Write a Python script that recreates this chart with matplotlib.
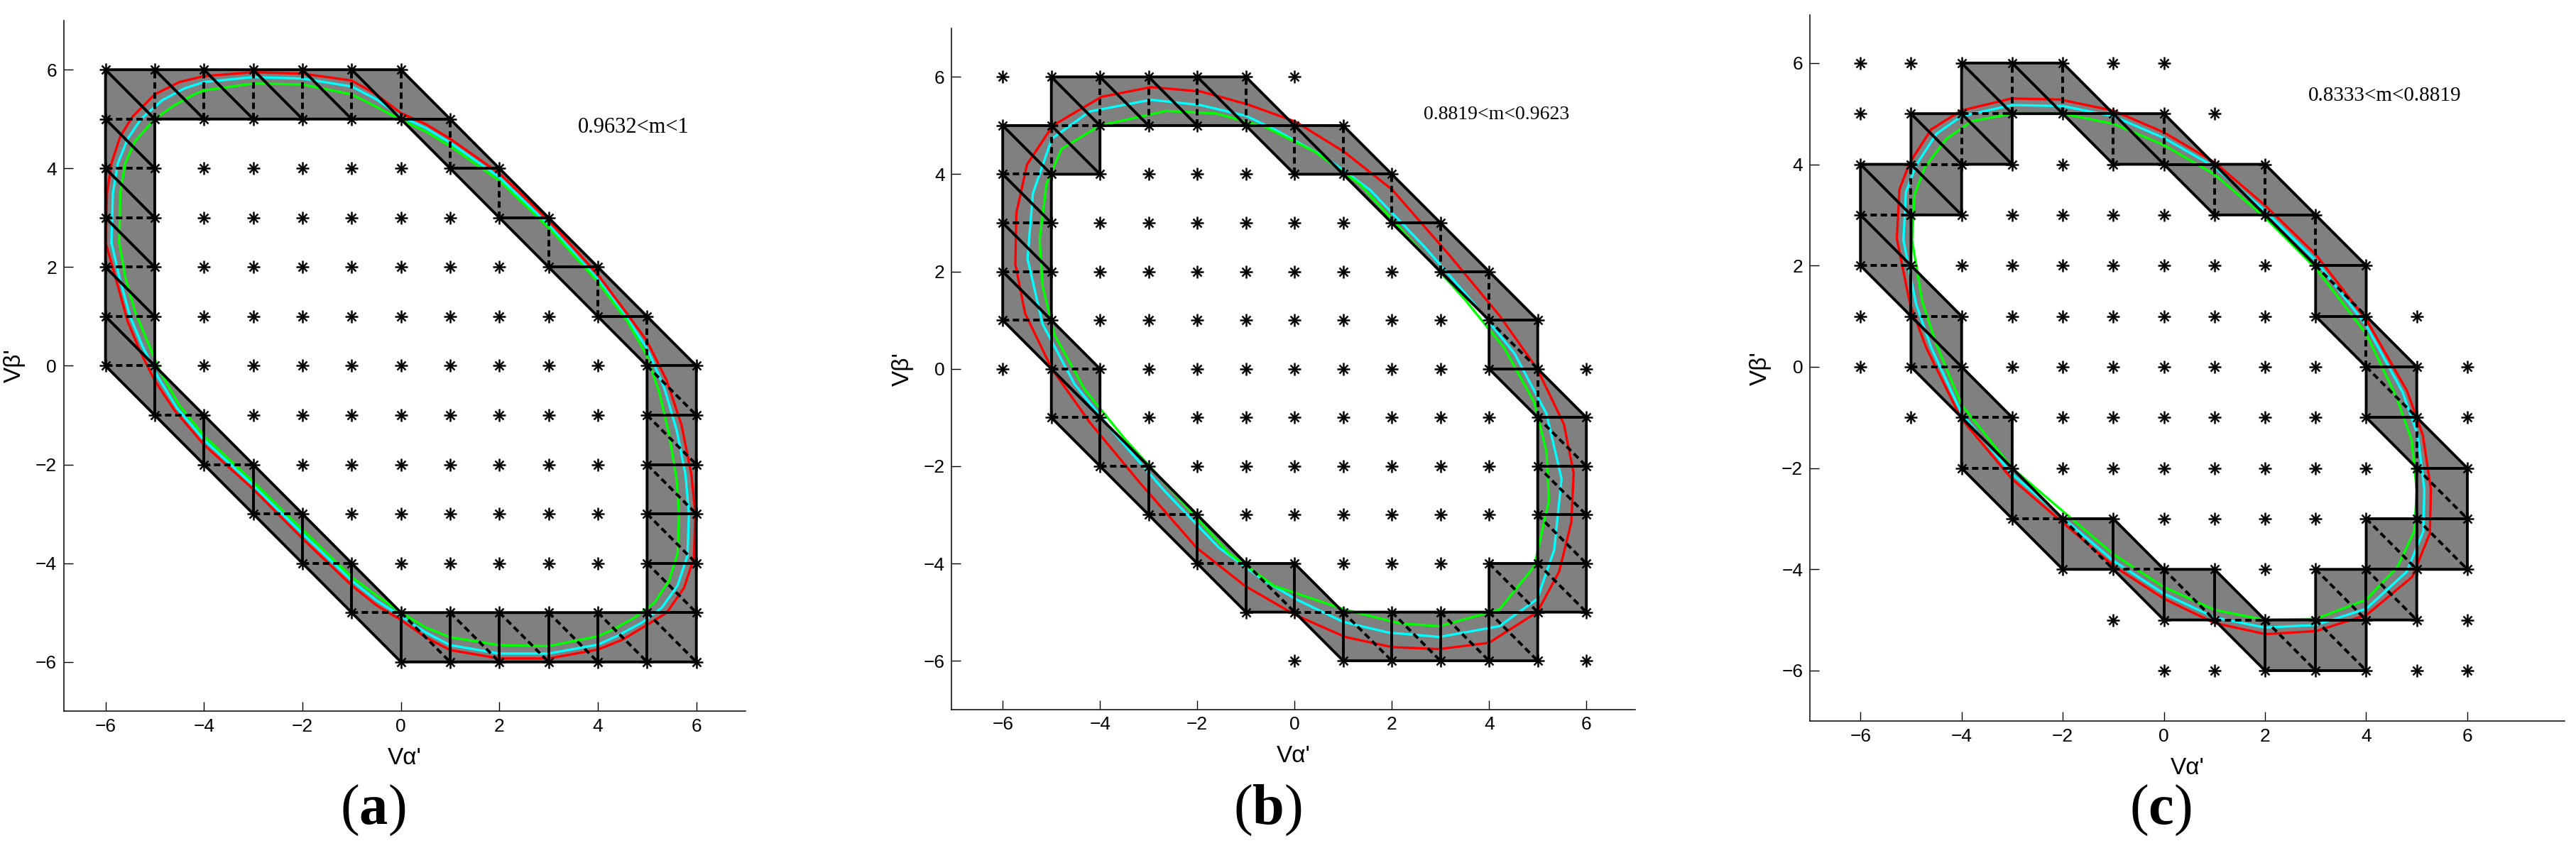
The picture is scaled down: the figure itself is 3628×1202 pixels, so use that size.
import matplotlib
matplotlib.use("Agg")
import matplotlib.pyplot as plt

plt.rcParams['font.family'] = ['Liberation Sans', 'DejaVu Sans']
plt.rcParams['mathtext.fontset'] = 'custom'
plt.rcParams['mathtext.rm'] = 'Liberation Serif'
plt.rcParams['mathtext.bf'] = 'Liberation Serif:bold'

# lattice of switching vectors: row y -> (x min, x max)
star_rows = {6: (-6, 0), 5: (-6, 1), 4: (-6, 2), 3: (-6, 3), 2: (-6, 4), 1: (-6, 5), 0: (-6, 6),
             -1: (-5, 6), -2: (-4, 6), -3: (-3, 6), -4: (-2, 6), -5: (-1, 6), -6: (0, 6)}

ticks = [-6, -4, -2, 0, 2, 4, 6]
panel_names = ['a', 'b', 'c']
ranges = ['0.9632<m<1', '0.8819<m<0.9623', '0.8333<m<0.8819']

# ---- panel (a) ----
outer_a = [(-6, 6), (0, 6), (6, 0), (6, -6), (0, -6), (-6, 0)]
inner_a = [(-5, 5), (0, 5), (5, 0), (5, -5), (0, -5), (-5, 0)]
solid_a = [(-6, 6, -5, 5), (-5, 6, -4, 5), (-4, 6, -3, 5), (-3, 6, -2, 5), (-2, 6, -1, 5), (-1, 6, 0, 5),
           (-6, 5, -5, 4), (-6, 4, -5, 3), (-6, 3, -5, 2), (-6, 2, -5, 1), (-6, 1, -5, 0),
           (-5, -1, -5, 0), (-4, -2, -4, -1), (-3, -3, -3, -2), (-2, -4, -2, -3), (-1, -5, -1, -4), (0, -6, 0, -5),
           (1, -6, 1, -5), (2, -6, 2, -5), (3, -6, 3, -5), (4, -6, 4, -5), (5, -6, 5, -5),
           (5, 0, 6, 0), (5, -1, 6, -1), (5, -2, 6, -2), (5, -3, 6, -3), (5, -4, 6, -4), (5, -5, 6, -5),
           (0, 5, 1, 5), (1, 4, 2, 4), (2, 3, 3, 3), (3, 2, 4, 2), (4, 1, 5, 1)]
dashed_a = [(-5, 5, -5, 6), (-4, 5, -4, 6), (-3, 5, -3, 6), (-2, 5, -2, 6), (-1, 5, -1, 6), (0, 5, 0, 6),
            (-6, 5, -5, 5), (-6, 4, -5, 4), (-6, 3, -5, 3), (-6, 2, -5, 2), (-6, 1, -5, 1), (-6, 0, -5, 0),
            (-5, -1, -4, -1), (-4, -2, -3, -2), (-3, -3, -2, -3), (-2, -4, -1, -4), (-1, -5, 0, -5),
            (0, -5, 1, -6), (1, -5, 2, -6), (2, -5, 3, -6), (3, -5, 4, -6), (4, -5, 5, -6), (5, -5, 6, -6),
            (5, 0, 6, -1), (5, -1, 6, -2), (5, -2, 6, -3), (5, -3, 6, -4), (5, -4, 6, -5),
            (1, 4, 1, 5), (2, 3, 2, 4), (3, 2, 3, 3), (4, 1, 4, 2), (5, 0, 5, 1)]
red_a = [(-6.0, 2.5), (-5.97, 3.5), (-5.88, 4.1), (-5.7, 4.65), (-5.45, 5.05), (-5.0, 5.5), (-4.5, 5.75),
         (-4.0, 5.87), (-3.0, 5.95), (-2.0, 5.92), (-1.0, 5.78), (-0.5, 5.5), (0.0, 5.12), (0.5, 4.9),
         (1.0, 4.6), (2.0, 3.9), (3.0, 2.95), (4.0, 1.85), (4.6, 1.05), (5.0, 0.5), (5.4, -0.3), (5.7, -1.2),
         (5.9, -2.2), (5.98, -3.0), (5.95, -3.9), (5.75, -4.5), (5.4, -5.0), (5.0, -5.25), (4.5, -5.55),
         (4.0, -5.75), (3.0, -5.93), (2.0, -5.93), (1.0, -5.76), (0.5, -5.5), (0.0, -5.15), (-0.5, -4.85),
         (-1.0, -4.45), (-2.0, -3.5), (-3.0, -2.5), (-4.0, -1.6), (-4.6, -0.9), (-5.0, -0.3), (-5.3, 0.3),
         (-5.55, 0.9), (-5.8, 1.8)]
cyan_a = [(-5.88, 2.5), (-5.85, 3.5), (-5.75, 4.1), (-5.55, 4.6), (-5.28, 5.0), (-4.85, 5.38), (-4.4, 5.62),
          (-4.0, 5.75), (-3.0, 5.85), (-2.0, 5.82), (-1.0, 5.66), (-0.5, 5.4), (0.0, 5.05), (0.5, 4.82),
          (1.0, 4.52), (2.0, 3.82), (3.0, 2.85), (4.0, 1.75), (4.6, 0.95), (5.0, 0.35), (5.35, -0.45),
          (5.6, -1.3), (5.78, -2.2), (5.85, -3.0), (5.82, -3.85), (5.62, -4.45), (5.3, -4.9), (4.9, -5.2),
          (4.4, -5.47), (4.0, -5.65), (3.0, -5.83), (2.0, -5.83), (1.0, -5.66), (0.5, -5.4), (0.0, -5.07),
          (-0.5, -4.75), (-1.0, -4.35), (-2.0, -3.4), (-3.0, -2.42), (-4.0, -1.5), (-4.55, -0.85),
          (-4.95, -0.2), (-5.25, 0.4), (-5.5, 1.0), (-5.72, 1.8)]
green_a = [(-5.72, 2.5), (-5.7, 3.5), (-5.6, 4.1), (-5.4, 4.55), (-5.0, 5.0), (-4.6, 5.28), (-4.2, 5.5),
           (-4.0, 5.58), (-3.0, 5.72), (-2.0, 5.7), (-1.0, 5.5), (-0.5, 5.25), (0.0, 4.98), (0.5, 4.75),
           (1.0, 4.45), (2.0, 3.75), (3.0, 2.8), (4.0, 1.7), (4.6, 0.9), (5.0, 0.2), (5.25, -0.55),
           (5.45, -1.4), (5.6, -2.3), (5.65, -3.0), (5.62, -3.8), (5.45, -4.35), (5.15, -4.8), (4.75, -5.1),
           (4.3, -5.35), (4.0, -5.48), (3.0, -5.68), (2.0, -5.66), (1.0, -5.5), (0.5, -5.3), (0.0, -5.0),
           (-0.5, -4.65), (-1.0, -4.28), (-2.0, -3.32), (-3.0, -2.35), (-4.0, -1.42), (-4.5, -0.8),
           (-4.9, -0.1), (-5.15, 0.5), (-5.4, 1.1), (-5.6, 1.8)]

# ---- panel (b) ----
outer_b = [(-6, 5), (-5, 5), (-5, 6), (-1, 6), (0, 5), (1, 5), (5, 1), (5, 0), (6, -1), (6, -5), (5, -5),
           (5, -6), (1, -6), (0, -5), (-1, -5), (-5, -1), (-5, 0), (-6, 1)]
inner_b = [(-5, 4), (-4, 4), (-4, 5), (-1, 5), (0, 4), (1, 4), (4, 1), (4, 0), (5, -1), (5, -4), (4, -4),
           (4, -5), (1, -5), (0, -4), (-1, -4), (-4, -1), (-4, 0), (-5, 1)]
solid_b = [(-6, 5, -5, 4), (-6, 4, -5, 3), (-6, 3, -5, 2), (-6, 2, -5, 1), (-5, 0, -5, 1), (-5, 0, -4, -1),
           (-4, -2, -4, -1), (-3, -3, -3, -2), (-2, -4, -2, -3), (-1, -5, -1, -4), (0, -5, 0, -4),
           (1, -6, 1, -5), (2, -6, 2, -5), (3, -6, 3, -5), (4, -6, 4, -5), (4, -5, 5, -5), (5, -5, 5, -4),
           (5, -2, 6, -2), (5, -3, 6, -3), (5, -4, 6, -4), (5, -1, 6, -1), (4, 0, 5, 0), (4, 1, 5, 1),
           (3, 2, 4, 2), (2, 3, 3, 3), (1, 4, 2, 4), (0, 5, 1, 4), (-1, 5, 0, 5), (-2, 6, -1, 5),
           (-3, 6, -2, 5), (-4, 6, -3, 5), (-5, 6, -4, 5), (-5, 5, -4, 4)]
dashed_b = [(-6, 4, -5, 4), (-6, 3, -5, 3), (-6, 2, -5, 2), (-6, 1, -5, 1), (-5, 0, -4, 0), (-5, -1, -4, -1),
            (-4, -2, -3, -2), (-3, -3, -2, -3), (-2, -4, -1, -4), (-1, -4, 0, -5), (0, -5, 1, -5),
            (1, -5, 2, -6), (2, -5, 3, -6), (3, -5, 4, -6), (4, -5, 5, -6), (4, -4, 5, -5),
            (5, -1, 6, -2), (5, -2, 6, -3), (5, -3, 6, -4), (5, -4, 6, -5), (5, -1, 5, 0), (4, 1, 5, 0),
            (4, 1, 4, 2), (3, 2, 3, 3), (2, 3, 2, 4), (1, 4, 1, 5), (0, 4, 0, 5), (-1, 5, -1, 6),
            (-2, 5, -2, 6), (-3, 5, -3, 6), (-4, 5, -4, 6), (-5, 5, -4, 5), (-5, 4, -5, 5)]
red_b = [(-2.95, 5.79), (-1.93, 5.7), (-0.98, 5.44), (0.02, 5.08), (1.02, 4.46), (2.01, 3.68), (3.19, 2.33),
         (4.21, 1.1), (4.99, 0.0), (5.54, -1.14), (5.74, -2.15), (5.69, -3.16), (5.44, -4.17), (4.99, -5.0),
         (4.0, -5.63), (2.98, -5.76), (2.01, -5.72), (1.04, -5.51), (0.02, -5.06), (-1.02, -4.46),
         (-2.01, -3.68), (-3.19, -2.33), (-4.21, -1.1), (-4.99, 0.0), (-5.54, 1.14), (-5.74, 2.15),
         (-5.72, 3.2), (-5.5, 4.2), (-4.97, 5.0), (-3.97, 5.59)]
cyan_b = [(-2.95, 5.53), (-1.93, 5.42), (-1.0, 5.2), (-0.39, 4.91), (0.63, 4.35), (1.55, 3.68), (2.68, 2.5),
          (3.7, 1.33), (4.52, 0.32), (5.18, -0.92), (5.49, -2.26), (5.34, -3.72), (4.99, -4.73),
          (4.21, -5.29), (2.98, -5.51), (1.93, -5.42), (1.0, -5.2), (0.02, -4.73), (-0.63, -4.35),
          (-1.55, -3.68), (-2.68, -2.5), (-3.7, -1.33), (-4.52, -0.32), (-5.18, 0.92), (-5.49, 2.26),
          (-5.38, 3.6), (-4.99, 4.73), (-4.21, 5.29)]
green_b = [(-2.64, 5.3), (-1.62, 5.25), (-0.6, 4.97), (0.42, 4.46), (1.35, 3.79), (2.47, 2.56), (3.49, 1.44),
           (4.31, 0.43), (4.93, -0.69), (5.18, -1.7), (5.23, -2.71), (4.93, -4.06), (4.21, -4.95),
           (2.98, -5.29), (2.16, -5.23), (1.04, -4.95), (-0.42, -4.46), (-1.35, -3.79), (-2.47, -2.56),
           (-3.49, -1.44), (-4.31, -0.43), (-4.93, 0.69), (-5.18, 1.7), (-5.24, 2.65), (-5.1, 3.8),
           (-4.79, 4.52), (-4.0, 5.0)]

# ---- panel (c) ----
outer_c = [(-6, 2), (-6, 4), (-5, 4), (-5, 5), (-4, 5), (-4, 6), (-2, 6), (-1, 5), (0, 5), (1, 4), (2, 4),
           (4, 2), (4, 1), (5, 0), (5, -1), (6, -2), (6, -4), (5, -4), (5, -5), (4, -5), (4, -6), (2, -6),
           (1, -5), (0, -5), (-1, -4), (-2, -4), (-4, -2), (-4, -1), (-5, 0), (-5, 1)]
inner_c = [(-5, 3), (-4, 3), (-4, 4), (-3, 4), (-3, 5), (-2, 5), (-1, 4), (0, 4), (1, 3), (2, 3), (3, 2),
           (3, 1), (4, 0), (4, -1), (5, -2), (5, -3), (4, -3), (4, -4), (3, -4), (3, -5), (2, -5), (1, -4),
           (0, -4), (-1, -3), (-2, -3), (-3, -2), (-3, -1), (-4, 0), (-4, 1), (-5, 2)]
solid_c = [(-6, 4, -5, 3), (-6, 3, -5, 2), (-5, 1, -5, 2), (-5, 1, -4, 0), (-4, -1, -4, 0), (-4, -1, -3, -2),
           (-3, -3, -3, -2), (-2, -4, -2, -3), (-1, -4, -1, -3), (0, -5, 0, -4), (1, -5, 1, -4),
           (2, -6, 2, -5), (3, -6, 3, -5), (3, -5, 4, -5), (4, -5, 4, -4), (4, -4, 5, -4), (5, -4, 5, -3),
           (5, -3, 6, -3), (5, -2, 6, -2), (4, -1, 5, -1), (4, 0, 5, 0), (3, 1, 4, 1), (3, 2, 4, 2),
           (2, 3, 3, 3), (1, 4, 2, 3), (0, 4, 1, 4), (-1, 5, 0, 4), (-2, 5, -1, 5),
           (-3, 6, -2, 5), (-4, 6, -3, 5), (-4, 5, -3, 4), (-5, 5, -4, 4), (-5, 4, -4, 3)]
dashed_c = [(-6, 3, -5, 3), (-6, 2, -5, 2), (-5, 1, -4, 1), (-5, 0, -4, 0), (-4, -1, -3, -1), (-4, -2, -3, -2),
            (-3, -3, -2, -3), (-2, -3, -1, -4), (-1, -4, 0, -4), (0, -4, 1, -5), (1, -5, 2, -5),
            (2, -5, 3, -6), (3, -5, 4, -6), (3, -4, 4, -5), (4, -4, 5, -5), (4, -3, 5, -4), (5, -3, 6, -4),
            (5, -2, 6, -3), (5, -2, 5, -1), (4, 0, 5, -1), (4, 0, 4, 1), (3, 2, 4, 1), (3, 2, 3, 3),
            (2, 3, 2, 4), (1, 3, 1, 4), (0, 4, 0, 5), (-1, 4, -1, 5), (-2, 5, -2, 6), (-3, 5, -3, 6),
            (-4, 5, -3, 5), (-4, 4, -4, 5), (-5, 4, -4, 4), (-5, 3, -5, 4)]
red_c = [(-4.6, 4.69), (-4.01, 5.06), (-3.01, 5.3), (-2.06, 5.28), (-1.0, 5.06), (0.0, 4.63), (1.0, 4.04),
         (2.01, 3.18), (3.01, 2.21), (4.01, 0.92), (4.81, -0.48), (5.12, -1.35), (5.28, -2.42),
         (5.26, -3.29), (4.91, -4.15), (4.01, -4.9), (3.01, -5.22), (2.01, -5.28), (1.0, -5.06),
         (0.0, -4.58), (-1.0, -3.93), (-2.01, -3.07), (-3.01, -2.21), (-4.01, -1.02), (-4.7, 0.38),
         (-5.02, 1.24), (-5.28, 2.53), (-5.23, 3.5), (-5.02, 4.04)]
cyan_c = [(-4.5, 4.6), (-4.0, 4.95), (-3.0, 5.17), (-2.0, 5.15), (-1.0, 4.95), (0.0, 4.52), (1.0, 3.95),
          (2.0, 3.08), (3.0, 2.1), (4.0, 0.82), (4.72, -0.5), (5.02, -1.35), (5.15, -2.42), (5.13, -3.25),
          (4.8, -4.05), (4.0, -4.78), (3.0, -5.1), (2.0, -5.15), (1.0, -4.95), (0.0, -4.48), (-1.0, -3.83),
          (-2.0, -2.98), (-3.0, -2.12), (-4.0, -0.92), (-4.6, 0.38), (-4.9, 1.24), (-5.15, 2.5),
          (-5.1, 3.45), (-4.9, 3.98)]
green_c = [(-4.3, 4.5), (-3.8, 4.85), (-3.0, 5.0), (-2.0, 5.0), (-1.0, 4.8), (0.0, 4.38), (1.0, 3.8),
           (2.0, 2.95), (3.0, 1.95), (4.0, 0.65), (4.6, -0.6), (4.9, -1.45), (5.0, -2.45), (4.95, -3.25),
           (4.62, -3.95), (4.0, -4.6), (3.0, -4.98), (2.0, -5.0), (1.0, -4.8), (0.0, -4.35), (-1.0, -3.7),
           (-2.0, -2.85), (-3.0, -2.0), (-4.0, -0.75), (-4.5, 0.45), (-4.78, 1.3), (-4.98, 2.5),
           (-4.93, 3.4), (-4.72, 3.95)]

panels = [
    dict(outer=outer_a, inner=inner_a, solid=solid_a, dashed=dashed_a, curves=[red_a, cyan_a, green_a],
         rect=[0.02472, 0.16614, 0.26470, 0.81000], xlim=(-6.85, 7), ylim=(-7, 7),
         note_xy=(3.6, 4.83), note_size=22, label_x=525 / 3628),
    dict(outer=outer_b, inner=inner_b, solid=solid_b, dashed=dashed_b, curves=[red_b, cyan_b, green_b],
         rect=[0.36943, 0.16830, 0.26527, 0.79859], xlim=(-7.05, 7), ylim=(-7, 7),
         note_xy=(2.65, 5.23), note_size=20, label_x=1785 / 3628),
    dict(outer=outer_c, inner=inner_c, solid=solid_c, dashed=dashed_c, curves=[red_c, cyan_c, green_c],
         rect=[0.70259, 0.15449, 0.29292, 0.82800], xlim=(-7, 7.92), ylim=(-7, 6.95),
         note_xy=(2.85, 5.35), note_size=21, label_x=3043 / 3628),
]
curve_colors = ['#ff0000', '#00ffff', '#00ff00']

fig = plt.figure(figsize=(36.28, 12.02), dpi=100)

for k, p in enumerate(panels):
    ax = fig.add_axes(p['rect'])
    ox, oy = zip(*p['outer'])
    ix, iy = zip(*p['inner'])
    ax.fill(ox, oy, color='#808080', lw=0, zorder=1)
    ax.fill(ix, iy, color='white', lw=0, zorder=1.5)

    for pts, col in zip(p['curves'], curve_colors):
        cx, cy = zip(*(pts + pts[:1]))
        ax.plot(cx, cy, color=col, lw=2.4, zorder=2, solid_joinstyle='round')

    ax.plot(list(ox) + [ox[0]], list(oy) + [oy[0]], color='k', lw=2.8, zorder=3)
    ax.plot(list(ix) + [ix[0]], list(iy) + [iy[0]], color='k', lw=2.8, zorder=3)
    for x0, y0, x1, y1 in p['solid']:
        ax.plot([x0, x1], [y0, y1], color='k', lw=2.8, zorder=3)
    for x0, y0, x1, y1 in p['dashed']:
        ax.plot([x0, x1], [y0, y1], color='k', lw=2.8, dashes=(2.3, 1.4), zorder=3)

    sx, sy = [], []
    for yy, (x_lo, x_hi) in star_rows.items():
        for xx in range(x_lo, x_hi + 1):
            sx.append(xx)
            sy.append(yy)
    ax.plot(sx, sy, ls='none', marker='+', ms=13, mew=1.8, color='k', zorder=4)
    ax.plot(sx, sy, ls='none', marker='x', ms=8, mew=1.8, color='k', zorder=4)

    ax.text(p['note_xy'][0], p['note_xy'][1], ranges[k], family='Liberation Serif',
            fontsize=p['note_size'], va='center', ha='left')

    ax.set_xlim(*p['xlim'])
    ax.set_ylim(*p['ylim'])
    ax.set_xticks(ticks)
    ax.set_yticks(ticks)
    ax.tick_params(direction='in', length=9.5, width=1.0, labelsize=19, pad=7)
    for side in ['top', 'right']:
        ax.spines[side].set_visible(False)
    for side in ['left', 'bottom']:
        ax.spines[side].set_linewidth(1.1)
    ax.set_xlabel("V\u03b1'", fontsize=24, labelpad=12)
    ax.set_ylabel("V\u03b2'", fontsize=24, labelpad=10)

    fig.text(p['label_x'], 1 - 1142 / 1202, '(' + r'$\mathbf{' + panel_names[k] + '}$' + ')',
             family='Liberation Serif', fontsize=58, ha='center', va='center')

fig.savefig('out.png', dpi=100)
